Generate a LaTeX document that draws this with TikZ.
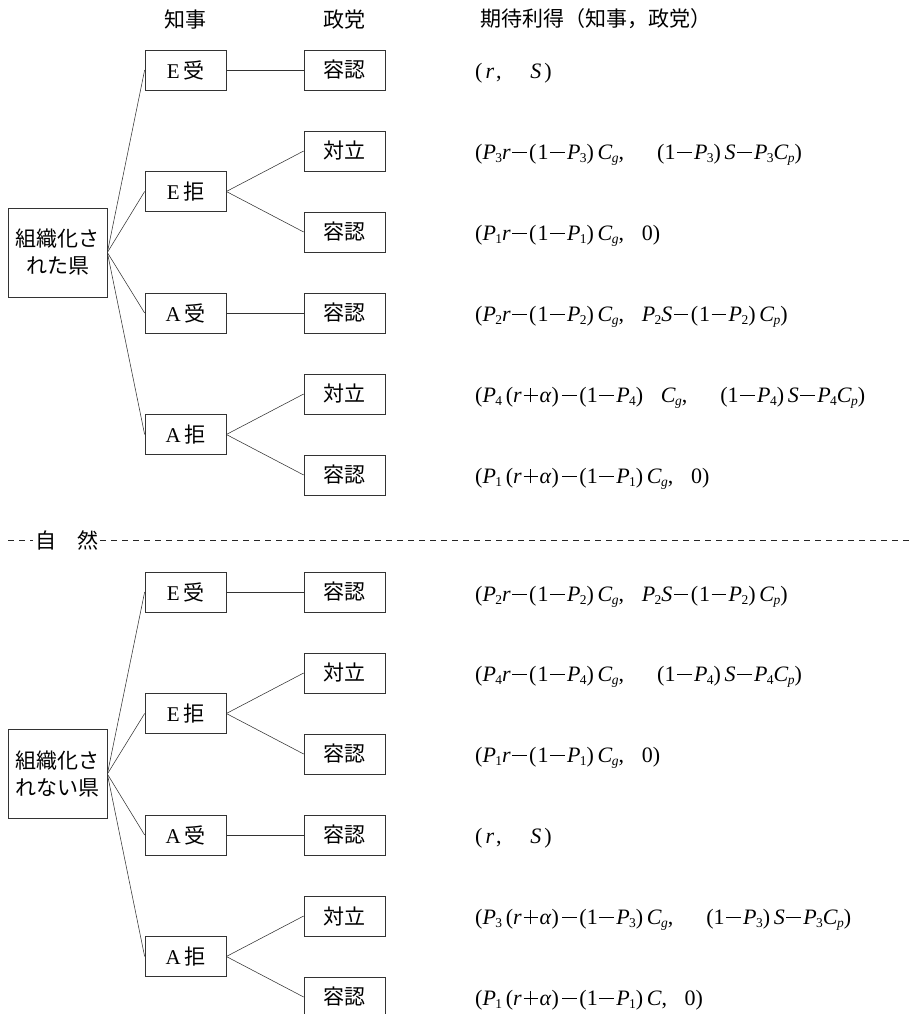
\documentclass[tikz,border=0pt]{standalone}
\usepackage{fontspec}
\setmainfont{Liberation Serif}
\newfontfamily\jp{Noto Sans CJK JP}
\newcommand\sbx[1]{\kern-0.6pt{\fontsize{13.5}{13.5}\selectfont\raisebox{-3pt}{#1}}}
\newcommand\vP[1]{\textit{P}\sbx{#1}}
\newcommand\vC[1]{\textit{C}\sbx{\textit{#1}}}
\newcommand\mn{\kern1.5pt\rule[6.6pt]{14.5pt}{0.8pt}\kern2.5pt}
\newcommand\pl{\kern2pt\makebox[14pt]{\rule[6.6pt]{14pt}{0.8pt}\llap{\rule[-0.3pt]{0.8pt}{14pt}\kern6.6pt}}\kern2pt}
\newcommand\lp{(\kern1pt}
\begin{document}
\begin{tikzpicture}[x=1pt,y=-1pt,
  gbox/.style={draw=black!80, line width=0.7pt, minimum width=81pt, minimum height=40pt, inner sep=0pt, font=\fontsize{21}{25}\selectfont},
  pbox/.style={gbox, font=\fontsize{21}{25}\selectfont\jp},
  rootbox/.style={draw=black!80, line width=0.7pt, minimum width=99pt, minimum height=89pt, inner sep=0pt, align=center, font=\fontsize{21}{27}\selectfont\jp},
  conn/.style={line width=0.55pt, draw=black!80},
  head/.style={font=\fontsize{21}{25}\selectfont\jp},
  payoff/.style={anchor=base west, inner sep=0pt, font=\fontsize{22}{26}\selectfont},
  sep/.style={line width=0.6pt, dash pattern=on 6pt off 5pt, draw=black!85}
]
\useasboundingbox (0,0) rectangle (914,1014);

% headers
\node[head] (h1) at (185.5,20) {知事};
\node[head] (h2) at (344.5,20) {政党};
\node[head, anchor=west, inner sep=0pt] (h3) at (480,19) {期待利得（知事，政党）};

% ---------- top section ----------
\node[rootbox] (r1) at (57.5,252.5) {組織化さ\\れた県};
\node[gbox] (g11) at (185.5,70) {E\,{\jp 受}};
\node[gbox] (g12) at (185.5,191.5) {E\,{\jp 拒}};
\node[gbox] (g13) at (185.5,313) {A\,{\jp 受}};
\node[gbox] (g14) at (185.5,434.5) {A\,{\jp 拒}};
\node[pbox] (p11) at (344.5,70) {容認};
\node[pbox] (p12) at (344.5,151) {対立};
\node[pbox] (p13) at (344.5,232) {容認};
\node[pbox] (p14) at (344.5,313) {容認};
\node[pbox] (p15) at (344.5,394) {対立};
\node[pbox] (p16) at (344.5,475) {容認};
\foreach \g in {g11,g12,g13,g14} \draw[conn] (r1.east) -- (\g.west);
\draw[conn] (g11.east) -- (p11.west);
\draw[conn] (g12.east) -- (p12.west);
\draw[conn] (g12.east) -- (p13.west);
\draw[conn] (g13.east) -- (p14.west);
\draw[conn] (g14.east) -- (p15.west);
\draw[conn] (g14.east) -- (p16.west);

\node[payoff] (f11) at (475,79) {(\kern3pt\textit{r}\kern2pt,\hspace{1.3em}\textit{S}\kern3pt)};
\node[payoff] (f12) at (475,159) {(\vP3\textit{r}\mn\lp1\mn\vP3)\,\vC{g},\hspace{1.5em}(1\mn\vP3)\,\textit{S}\mn\vP3\vC{p})};
\node[payoff] (f13) at (475,240) {(\vP1\textit{r}\mn\lp1\mn\vP1)\,\vC{g},\hspace{0.8em}0)};
\node[payoff] (f14) at (475,321) {(\vP2\textit{r}\mn\lp1\mn\vP2)\,\vC{g},\hspace{0.8em}\vP2\textit{S}\mn\lp1\mn\vP2)\,\vC{p})};
\node[payoff] (f15) at (475,402) {(\vP4\,(\textit{r}\pl\textit{α})\kern2pt\mn(1\mn\vP4)\hspace{0.8em}\vC{g},\hspace{1.5em}(1\mn\vP4)\,\textit{S}\mn\vP4\vC{p})};
\node[payoff] (f16) at (475,483) {(\vP1\,(\textit{r}\pl\textit{α})\kern2pt\mn(1\mn\vP1)\,\vC{g},\hspace{0.8em}0)};

% ---------- separator ----------
\node[head, inner sep=2pt] (nat) at (66.5,540) {自　然};
\coordinate (sl) at (8,540);
\coordinate (sr) at (914,540);
\draw[sep] (sl) -- (nat.west);
\draw[sep] (nat.east) -- (sr);

% ---------- bottom section ----------
\node[rootbox] (r2) at (57.5,774) {組織化さ\\れない県};
\node[gbox] (g21) at (185.5,592) {E\,{\jp 受}};
\node[gbox] (g22) at (185.5,713.5) {E\,{\jp 拒}};
\node[gbox] (g23) at (185.5,835) {A\,{\jp 受}};
\node[gbox] (g24) at (185.5,956.5) {A\,{\jp 拒}};
\node[pbox] (p21) at (344.5,592) {容認};
\node[pbox] (p22) at (344.5,673) {対立};
\node[pbox] (p23) at (344.5,754) {容認};
\node[pbox] (p24) at (344.5,835) {容認};
\node[pbox] (p25) at (344.5,916) {対立};
\node[pbox] (p26) at (344.5,997) {容認};
\foreach \g in {g21,g22,g23,g24} \draw[conn] (r2.east) -- (\g.west);
\draw[conn] (g21.east) -- (p21.west);
\draw[conn] (g22.east) -- (p22.west);
\draw[conn] (g22.east) -- (p23.west);
\draw[conn] (g23.east) -- (p24.west);
\draw[conn] (g24.east) -- (p25.west);
\draw[conn] (g24.east) -- (p26.west);

\node[payoff] (f21) at (475,601) {(\vP2\textit{r}\mn\lp1\mn\vP2)\,\vC{g},\hspace{0.8em}\vP2\textit{S}\mn\lp1\mn\vP2)\,\vC{p})};
\node[payoff] (f22) at (475,681) {(\vP4\textit{r}\mn\lp1\mn\vP4)\,\vC{g},\hspace{1.5em}(1\mn\vP4)\,\textit{S}\mn\vP4\vC{p})};
\node[payoff] (f23) at (475,762) {(\vP1\textit{r}\mn\lp1\mn\vP1)\,\vC{g},\hspace{0.8em}0)};
\node[payoff] (f24) at (475,843) {(\kern3pt\textit{r}\kern2pt,\hspace{1.3em}\textit{S}\kern3pt)};
\node[payoff] (f25) at (475,924) {(\vP3\,(\textit{r}\pl\textit{α})\kern2pt\mn(1\mn\vP3)\,\vC{g},\hspace{1.5em}(1\mn\vP3)\,\textit{S}\mn\vP3\vC{p})};
\node[payoff] (f26) at (475,1005) {(\vP1\,(\textit{r}\pl\textit{α})\kern2pt\mn(1\mn\vP1)\,\textit{C},\hspace{0.8em}0)};
\end{tikzpicture}
\end{document}
